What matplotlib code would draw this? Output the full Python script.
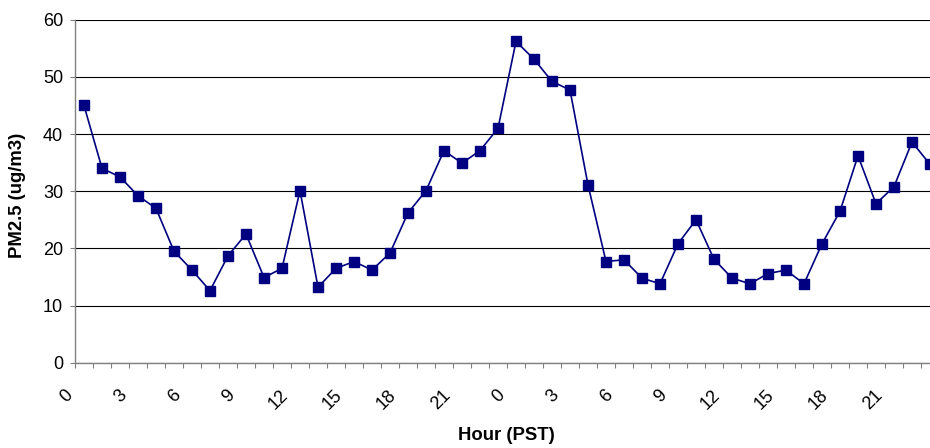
import matplotlib
matplotlib.use("Agg")
import matplotlib.pyplot as plt
import matplotlib.transforms as mtransforms
from matplotlib.ticker import FixedLocator, NullFormatter

plt.rcParams["font.family"] = ["Liberation Sans", "DejaVu Sans"]

# hourly PM2.5 over two days (PST)
hours = list(range(24)) + list(range(24))
pm25 = [
    45.0, 34.0, 32.5, 29.2, 27.0, 19.5, 16.2, 12.6, 18.7, 22.5, 14.9, 16.5,
    30.1, 13.2, 16.5, 17.7, 16.2, 19.2, 26.2, 30.1, 37.1, 34.9, 37.1, 41.0,
    56.2, 53.1, 49.2, 47.7, 31.1, 17.7, 18.0, 14.8, 13.8, 20.8, 25.0, 18.1,
    14.8, 13.8, 15.6, 16.2, 13.8, 20.8, 26.5, 36.2, 27.8, 30.8, 38.6, 34.7,
]
y_ticks = [0, 10, 20, 30, 40, 50, 60]

W, H = 930, 448
fig = plt.figure(figsize=(W / 100, H / 100), dpi=100)
# plot area runs past the right edge, like the original export
ax = fig.add_axes([75 / W, (H - 362.7) / H, 864 / W, (362.7 - 19.7) / H])

x = list(range(len(pm25)))
ax.plot(x, pm25, color="#000080", lw=1.2, marker="s", ms=7.2,
        mfc="#000080", mec="#000080", clip_on=True, zorder=3)

ax.set_xlim(-0.5, len(pm25) - 0.5)
ax.set_ylim(0, 60)

ax.set_yticks(y_ticks)
ax.yaxis.grid(True, color="black", lw=0.8)
ax.set_axisbelow(True)

# labels every 3 hours at category centres, ticks on category boundaries
label_pos = [i for i in x if i % 3 == 0]
ax.set_xticks(label_pos)
ax.set_xticklabels([str(hours[i]) for i in label_pos], rotation=45,
                   ha="right", va="top", fontsize=13)
ax.xaxis.set_minor_locator(FixedLocator([i - 0.5 for i in range(len(pm25) + 1)]))
ax.xaxis.set_minor_formatter(NullFormatter())
ax.tick_params(axis="x", which="major", length=0, pad=17.5)
ax.tick_params(axis="x", which="minor", length=3.6, width=0.8,
               color="#808080", direction="out")
ax.tick_params(axis="y", length=3.6, width=0.8, color="#808080",
               direction="out", pad=5, labelsize=13)

offset = mtransforms.ScaledTranslation(-8 / 100, 0, fig.dpi_scale_trans)
for lbl in ax.get_xticklabels():
    lbl.set_transform(lbl.get_transform() + offset)

for side in ["top", "right"]:
    ax.spines[side].set_visible(False)
for side in ["left", "bottom"]:
    ax.spines[side].set_color("#808080")
    ax.spines[side].set_linewidth(1.0)

fig.text(17 / W, 1 - 195 / H, "PM2.5 (ug/m3)", rotation=90, ha="center",
         va="center", fontsize=13.3, fontweight="bold")
fig.text(506 / W, 1 - 435 / H, "Hour (PST)", ha="center", va="center",
         fontsize=13.3, fontweight="bold")

fig.savefig("out.png", dpi=100)
